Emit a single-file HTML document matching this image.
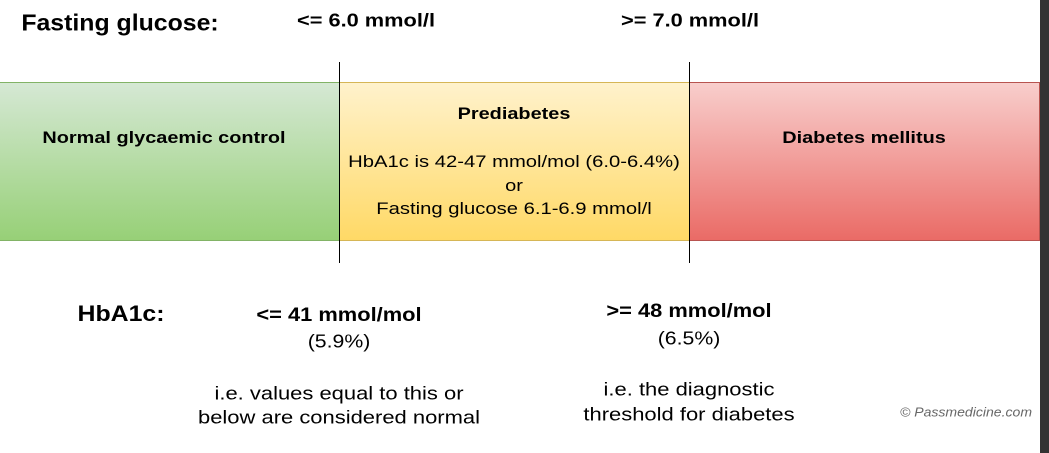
<!DOCTYPE html>
<html><head><meta charset="utf-8"><style>
body{margin:0;width:1049px;height:453px;background:#fff;position:relative;overflow:hidden;font-family:"Liberation Sans",Arial,sans-serif;color:#000}
.t{position:absolute;white-space:nowrap;transform:translate(-50%,-50%) scaleX(var(--k,1.18))}
.b{font-weight:bold}
.box{position:absolute;top:82px;height:159px;box-sizing:border-box}
.vl{position:absolute;top:62px;height:201px;width:1px;background:#000}
</style></head><body>
<div class="t b" style="left:120px;top:23px;font-size:23px;--k:1.08">Fasting glucose:</div>
<div class="t b" style="left:366px;top:21px;font-size:18px;--k:1.21">&lt;= 6.0 mmol/l</div>
<div class="t b" style="left:690px;top:21px;font-size:18px;--k:1.21">&gt;= 7.0 mmol/l</div>
<div class="box" style="left:0;width:340px;background:linear-gradient(#d5e8d4,#97d077);border-top:1px solid #82b366;border-bottom:1px solid #82b366"></div>
<div class="box" style="left:339px;width:351px;background:linear-gradient(#fff2cc,#ffd966);border:1px solid #d6b656"></div>
<div class="box" style="left:689px;width:351px;background:linear-gradient(#f8cecc,#ea6b66);border:1px solid #b85450"></div>
<div class="t b" style="left:164px;top:138px;font-size:17px;--k:1.17">Normal glycaemic control</div>
<div class="t b" style="left:514px;top:114px;font-size:17px;--k:1.17">Prediabetes</div>
<div class="t" style="left:514px;top:162px;font-size:17px;--k:1.19">HbA1c is 42-47 mmol/mol (6.0-6.4%)</div>
<div class="t" style="left:514px;top:186px;font-size:17px">or</div>
<div class="t" style="left:514px;top:209px;font-size:17px;--k:1.19">Fasting glucose 6.1-6.9 mmol/l</div>
<div class="t b" style="left:864px;top:138px;font-size:17px;--k:1.17">Diabetes mellitus</div>
<div class="vl" style="left:339px"></div>
<div class="vl" style="left:689px"></div>
<div class="t b" style="left:121px;top:314px;font-size:22px;--k:1.13">HbA1c:</div>
<div class="t b" style="left:339px;top:316px;font-size:19px;--k:1.15">&lt;= 41 mmol/mol</div>
<div class="t" style="left:339px;top:342px;font-size:18px">(5.9%)</div>
<div class="t" style="left:339px;top:394px;font-size:18px;--k:1.22">i.e. values equal to this or</div>
<div class="t" style="left:339px;top:418px;font-size:18px;--k:1.22">below are considered normal</div>
<div class="t b" style="left:689px;top:312px;font-size:19px;--k:1.15">&gt;= 48 mmol/mol</div>
<div class="t" style="left:689px;top:339px;font-size:18px">(6.5%)</div>
<div class="t" style="left:689px;top:390px;font-size:18px;--k:1.22">i.e. the diagnostic</div>
<div class="t" style="left:689px;top:415px;font-size:18px;--k:1.22">threshold for diabetes</div>
<div class="t" style="left:966px;top:412px;font-size:13px;font-style:italic;color:#666;--k:1.08">© Passmedicine.com</div>
<div style="position:absolute;left:1040px;top:0;width:9px;height:453px;background:#333"></div>
</body></html>
